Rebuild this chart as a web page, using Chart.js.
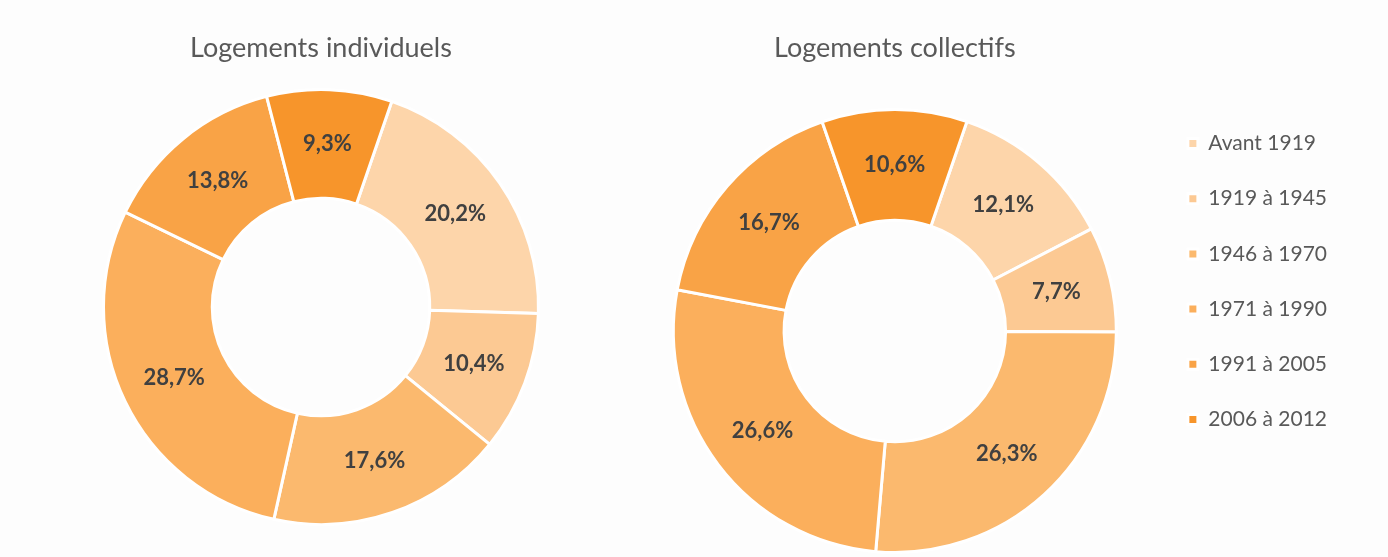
<!DOCTYPE html>
<html lang="fr">
<head>
<meta charset="utf-8">
<script src="https://cdn.jsdelivr.net/npm/chart.js@4"></script>
<style>
  html, body { margin: 0; padding: 0; background: #fdfdfd; }
  body { width: 1388px; height: 557px; position: relative; overflow: hidden; }
  .box { position: absolute; }
</style>
</head>
<body>
<div class="box" style="left:90px; top:20px; width:462px; height:506px;"><canvas id="chartIndiv"></canvas></div>
<div class="box" style="left:636px; top:0px; width:752px; height:557px;"><canvas id="chartColl"></canvas></div>
<script>
// periodes de construction
const periodes = ['Avant 1919', '1919 à 1945', '1946 à 1970', '1971 à 1990', '1991 à 2005', '2006 à 2012'];
// parts en %
const partsIndividuels = [20.2, 10.4, 17.6, 28.7, 13.8, 9.3];
const partsCollectifs = [12.1, 7.7, 26.3, 26.6, 16.7, 10.6];
const couleurs = ['#fdd5aa', '#fcc993', '#fbb96e', '#fbaf5c', '#f9a346', '#f7952b'];

const police = 'Lato, "Open Sans", sans-serif';

// etiquettes en % au milieu de chaque part
const etiquettes = {
  id: 'etiquettes',
  afterDatasetsDraw(chart) {
    const ctx = chart.ctx;
    const meta = chart.getDatasetMeta(0);
    const values = chart.data.datasets[0].data;
    ctx.save();
    ctx.font = 'bold 22px ' + police;
    ctx.fillStyle = '#404040';
    ctx.textAlign = 'center';
    ctx.textBaseline = 'middle';
    meta.data.forEach((arc, i) => {
      const p = arc.tooltipPosition();
      ctx.fillText(values[i].toFixed(1).replace('.', ',') + '%', p.x, p.y);
    });
    ctx.restore();
  }
};

function config(titre, valeurs, avecLegende, padding, titrePad) {
  return {
    type: 'doughnut',
    data: {
      labels: periodes,
      datasets: [{
        data: valeurs,
        backgroundColor: couleurs,
        borderColor: '#ffffff',
        borderWidth: 3
      }]
    },
    options: {
      responsive: true,
      maintainAspectRatio: false,
      animation: false,
      cutout: '50%',
      rotation: 19,
      layout: { padding: padding },
      plugins: {
        title: {
          display: true,
          text: titre,
          color: '#595959',
          fullSize: false,
          font: { family: police, size: 27, weight: 'normal' },
          padding: titrePad
        },
        legend: {
          display: avecLegende,
          position: 'right',
          labels: {
            color: '#595959',
            boxWidth: 10,
            boxHeight: 10,
            padding: 34.2,
            font: { family: police, size: 21 }
          }
        },
        tooltip: { enabled: false }
      }
    },
    plugins: [etiquettes]
  };
}

new Chart(document.getElementById('chartIndiv'),
  config('Logements individuels', partsIndividuels, false, 0, { top: 11.8, bottom: 23.8 }));
new Chart(document.getElementById('chartColl'),
  config('Logements collectifs', partsCollectifs, true, { top: 9, right: 51, bottom: 3 }, { top: 22.8, bottom: 43.8 }));
</script>
</body>
</html>
